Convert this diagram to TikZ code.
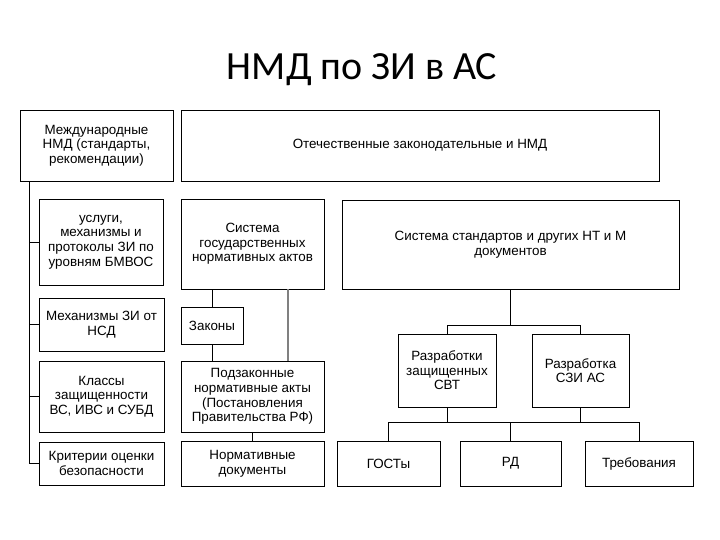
\documentclass[tikz,border=0pt]{standalone}
\usepackage{fontspec}
\setmainfont{Liberation Sans}
\newfontfamily\titlefont{Carlito}
\begin{document}
\begin{tikzpicture}[x=1pt,y=-1pt,
    blok/.style={draw,line width=0.9pt,inner sep=0pt,align=center,
      font=\fontsize{13.4}{14.6}\selectfont},
    svyaz/.style={line width=0.9pt}]
      \useasboundingbox (0,0) rectangle (720,540);
      \node[anchor=base,font=\titlefont\fontsize{40}{44}\selectfont] (title) at (362,80) {НМД по ЗИ в АС};

      \node[blok,minimum width=153,minimum height=71] (intl) at (96.5,145.5) {Международные\\НМД (стандарты,\\рекомендации)};
      \node[blok,minimum width=478,minimum height=71] (otech) at (420,145.5) {Отечественные законодательные и НМД};

      \node[blok,minimum width=124,minimum height=86] (uslugi) at (101,242) {услуги,\\механизмы и\\протоколы ЗИ по\\уровням БМВОС};
      \node[blok,minimum width=125,minimum height=53] (mehan) at (101.5,324.5) {Механизмы ЗИ от\\НСД};
      \node[blok,minimum width=125,minimum height=71] (klassy) at (101.5,396.5) {Классы\\защищенности\\ВС, ИВС и СУБД};
      \node[blok,minimum width=125,minimum height=43] (kriterii) at (101.5,463.5) {Критерии оценки\\безопасности};

      \node[blok,minimum width=143,minimum height=90] (sistema) at (252.5,244) {Система\\государственных\\нормативных актов};
      \node[blok,minimum width=62,minimum height=37] (zakony) at (212,325.5) {Законы};
      \node[blok,minimum width=143,minimum height=71] (podzak) at (252.5,396.5) {Подзаконные\\нормативные акты\\(Постановления\\Правительства РФ)};
      \node[blok,minimum width=143,minimum height=45] (normdok) at (252.5,463.5) {Нормативные\\документы};

      \node[blok,minimum width=337,minimum height=89] (standarty) at (510.5,244.5) {Система стандартов и других НТ и М\\документов};
      \node[blok,minimum width=98,minimum height=73] (svt) at (447,370.5) {Разработки\\защищенных\\СВТ};
      \node[blok,minimum width=97,minimum height=73] (szi) at (580.5,370.5) {Разработка\\СЗИ АС};
      \node[blok,minimum width=103,minimum height=45] (gost) at (388.5,463.5) {ГОСТы};
      \node[blok,minimum width=101,minimum height=45] (rd) at (510.5,463.5) {РД};
      \node[blok,minimum width=108,minimum height=45] (treb) at (639,463.5) {Требования};

      % left column
      \coordinate (shina) at ([xshift=10pt]intl.south west);
      \draw[svyaz] (shina) |- (kriterii.west);
      \draw[svyaz] (uslugi.west) -- (uslugi.west -| shina);
      \draw[svyaz] (mehan.west) -- (mehan.west -| shina);
      \draw[svyaz] (klassy.west) -- (klassy.west -| shina);

      % middle column
      \draw[svyaz] (zakony.north) -- (zakony.north |- sistema.south);
      \draw[svyaz] (zakony.south) -- (zakony.south |- podzak.north);
      \draw[gray,line width=2pt] ([xshift=-36pt]sistema.south east) -- ([xshift=-36pt]podzak.north east);
      \draw[svyaz] (podzak) -- (normdok);

      % right part
      \coordinate (vetv) at ([yshift=8pt]standarty.south |- svt.north);
      \draw[svyaz] (standarty.south) -- (vetv);
      \draw[svyaz] (svt.north) |- (vetv) -| (szi.north);
      \coordinate (niz) at ([yshift=18pt]rd.north);
      \draw[svyaz] (gost.north) |- (niz) -| (treb.north);
      \draw[svyaz] (rd.north) -- (niz);
      \draw[svyaz] (svt.south) -- (svt.south |- niz);
      \draw[svyaz] (szi.south) -- (szi.south |- niz);
    \end{tikzpicture}
\end{document}
